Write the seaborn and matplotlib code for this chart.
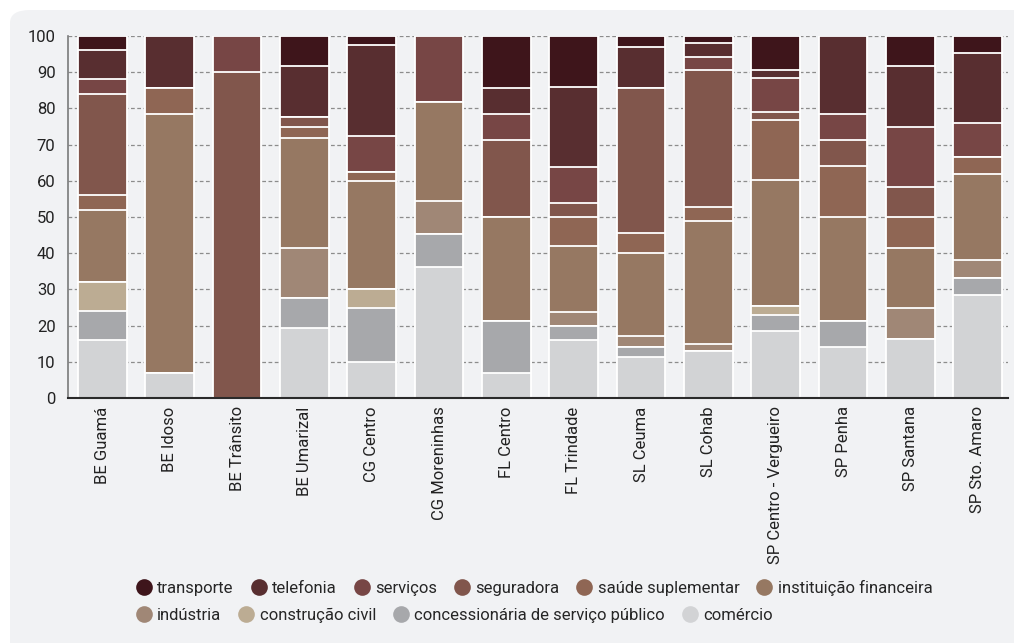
"""
Stacked bar chart: share of complaints by sector per unit
"""

import numpy as np
import pandas as pd
import matplotlib.pyplot as plt
from matplotlib.patches import FancyBboxPatch
from matplotlib.lines import Line2D
import seaborn as sns

sns.set_style('white')
plt.rcParams['font.family'] = ['Liberation Sans Narrow', 'Roboto', 'DejaVu Sans']

units = ['BE Guamá', 'BE Idoso', 'BE Trânsito', 'BE Umarizal', 'CG Centro',
         'CG Moreninhas', 'FL Centro', 'FL Trindade', 'SL Ceuma', 'SL Cohab',
         'SP Centro - Vergueiro', 'SP Penha', 'SP Santana', 'SP Sto. Amaro']

# stacking order: bottom -> top
sectors = ['comércio', 'concessionária de serviço público', 'construção civil',
           'indústria', 'instituição financeira', 'saúde suplementar',
           'seguradora', 'serviços', 'telefonia', 'transporte']

comercio       = [16, 7, 0, 19.2, 10, 36.2, 7, 15.9, 11.2, 13, 18.4, 14.1, 16.4, 28.4]
concessionaria = [8, 0, 0, 8.4, 15, 9.1, 14.2, 4.1, 2.9, 0, 4.6, 7.1, 0, 4.7]
construcao     = [8, 0, 0, 0, 5, 0, 0, 0, 0, 0, 2.4, 0, 0, 0]
industria      = [0, 0, 0, 13.8, 0, 9, 0, 3.8, 3, 1.8, 0, 0, 8.5, 5]
inst_fin       = [20, 71.5, 0, 30.5, 30, 27.5, 28.8, 18.2, 22.9, 34, 34.9, 28.8, 16.5, 23.7]
saude          = [4, 7, 0, 2.9, 2.4, 0, 0, 8, 5.7, 3.9, 16.4, 14.1, 8.6, 4.9]
seguradora     = [28, 0, 90, 2.8, 0, 0, 21.4, 4, 39.8, 37.8, 2.3, 7.3, 8.2, 0]
servicos       = [4, 0, 10, 0, 10.1, 18.2, 7.1, 9.9, 0, 3.7, 9.3, 7, 16.7, 9.4]
telefonia      = [8, 14.5, 0, 14, 25, 0, 7, 22, 11.5, 3.9, 2.2, 21.6, 16.7, 19.1]
transporte     = [4, 0, 0, 8.4, 2.5, 0, 14.5, 14.1, 3, 1.9, 9.5, 0, 8.4, 4.8]

colors = {
    'transporte': '#3e151b',
    'telefonia': '#582e30',
    'serviços': '#774645',
    'seguradora': '#81564c',
    'saúde suplementar': '#8f6654',
    'instituição financeira': '#967862',
    'indústria': '#a08776',
    'construção civil': '#bcac93',
    'concessionária de serviço público': '#a7a8ab',
    'comércio': '#d2d3d5',
}

df = pd.DataFrame(dict(zip(sectors, [comercio, concessionaria, construcao, industria,
                                     inst_fin, saude, seguradora, servicos,
                                     telefonia, transporte])), index=units)

fig = plt.figure(figsize=(10.14, 6.43), dpi=100)
fig.patch.set_facecolor('white')
panel = FancyBboxPatch((10 / 1014, -0.05), 1.2, (633 / 643) + 0.05,
                       boxstyle='round,pad=0,rounding_size=0.02',
                       transform=fig.transFigure, facecolor='#f1f2f4',
                       edgecolor='none', zorder=-5)
fig.patches.append(panel)

ax = fig.add_axes([68 / 1014, 1 - 398 / 643, (1008 - 68) / 1014, (398 - 36) / 643])
ax.set_facecolor('none')

# cumulative totals, drawn from the top layer down so lower layers cover them
cum = df.cumsum(axis=1)
for s in reversed(sectors):
    sns.barplot(x=units, y=cum[s].values, color=colors[s], ax=ax, width=0.72,
                edgecolor='white', linewidth=1.3, saturation=1, zorder=3)

ax.set_ylim(0, 100)
ax.set_xlim(-0.51, 13.45)
ax.set_yticks(range(0, 101, 10))
ax.yaxis.grid(True, linestyle=(0, (3, 2)), color='#8c8c8c', linewidth=0.9, zorder=0)
ax.set_axisbelow(True)
ax.tick_params(axis='y', length=0, pad=9, labelsize=12, labelcolor='#222222')
ax.tick_params(axis='x', length=0, pad=6, labelsize=12, labelcolor='#222222')
plt.setp(ax.get_xticklabels(), rotation=90)
ax.set_xlabel('')
ax.set_ylabel('')
for side in ['top', 'right']:
    ax.spines[side].set_visible(False)
ax.spines['left'].set_color('#7a7a7a')
ax.spines['left'].set_linewidth(1.2)
ax.spines['bottom'].set_color('#2a2a2a')
ax.spines['bottom'].set_linewidth(1.5)
ax.spines['bottom'].set_zorder(6)
ax.spines['left'].set_zorder(6)

row1 = ['transporte', 'telefonia', 'serviços', 'seguradora', 'saúde suplementar',
        'instituição financeira']
row2 = ['indústria', 'construção civil', 'concessionária de serviço público', 'comércio']


def make_handles(names):
    return [Line2D([0], [0], marker='o', linestyle='none', markersize=12,
                   markerfacecolor=colors[n], markeredgecolor='none') for n in names]


leg1 = fig.legend(make_handles(row1), row1, ncol=6, loc='center left',
                  bbox_to_anchor=(127 / 1014, 1 - 588 / 643), frameon=False,
                  fontsize=12, handletextpad=0.2, columnspacing=0.9,
                  handlelength=1.2, borderaxespad=0)
leg2 = fig.legend(make_handles(row2), row2, ncol=4, loc='center left',
                  bbox_to_anchor=(127 / 1014, 1 - 615 / 643), frameon=False,
                  fontsize=12, handletextpad=0.2, columnspacing=0.9,
                  handlelength=1.2, borderaxespad=0)

fig.savefig('out.png', dpi=100)
